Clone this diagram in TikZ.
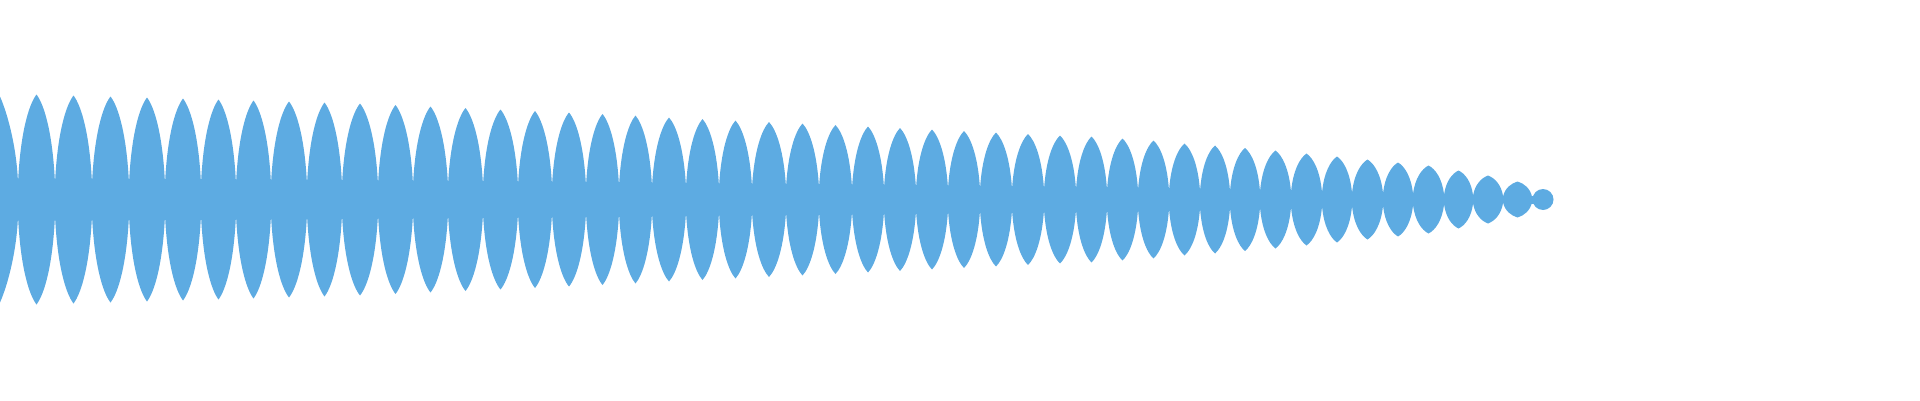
\documentclass[tikz,border=0pt]{standalone}
\definecolor{wave}{RGB}{93,171,226}
\begin{document}
\begin{tikzpicture}[x=1pt,y=1pt,lens/.style={fill=wave,draw=none}]
\useasboundingbox (0,0) rectangle (1920,400);
\def\c{200.5}
% first partial lens
\fill[wave] (0,\c-103) -- (0,\c+103) .. controls (8,\c+85) and (17,\c+50) .. (18,\c+16) -- (18,\c-16) .. controls (17,\c-50) and (8,\c-85) .. (0,\c-103) -- cycle;
\foreach \a/\b/\A in {18/55/105,55/92/104,92/129/103,129/165/102,165/201/101,201/236/100,236/271/99,271/307/98,307/342/97,342/378/96,378/413/94.5,413/448/93,448/483/91.5,483/518/90,518/552/88.5,552/586/87,586/619/85.5,619/652/84,652/686/82,686/719/80.5,719/752/79,752/786/77.5,786/819/76,819/852/74.5,852/884/73,884/916/71.5,916/948/70,948/980/68.5,980/1012/67,1012/1044/65.5,1044/1076/64,1076/1107/63,1107/1138/61,1138/1169/59,1169/1200/56,1200/1230/54,1230/1260/51.5,1260/1291/49,1291/1322/46,1322/1352/43,1352/1383/40,1383/1413/37,1413/1444/34,1444/1473/29,1473/1503/24,1503/1532/18}{
  \pgfmathsetmacro\s{\b-\a}
  \pgfmathsetmacro\m{(\a+\b)/2}
  \pgfmathsetmacro\w{0.155*\A}
  \pgfmathsetmacro\ya{\c+\w+0.55*(\A-\w)}
  \pgfmathsetmacro\yb{\c+\A-0.12*(\A-\w)}
  \pgfmathsetmacro\yc{\c-\w-0.55*(\A-\w)}
  \pgfmathsetmacro\yd{\c-\A+0.12*(\A-\w)}
  \fill[lens] (\a,\c-\w) -- (\a,\c+\w)
    .. controls (\a+0.06*\s,\ya) and (\m-0.22*\s,\yb) .. (\m,\c+\A)
    .. controls (\m+0.22*\s,\yb) and (\b-0.06*\s,\ya) .. (\b,\c+\w)
    -- (\b,\c-\w)
    .. controls (\b-0.06*\s,\yc) and (\m+0.22*\s,\yd) .. (\m,\c-\A)
    .. controls (\m-0.22*\s,\yd) and (\a+0.06*\s,\yc) .. (\a,\c-\w) -- cycle;
}
\fill[wave] (1543,\c) circle (10.5);
\fill[wave] (1530,\c-4) rectangle (1536,\c+4);
\end{tikzpicture}
\end{document}
